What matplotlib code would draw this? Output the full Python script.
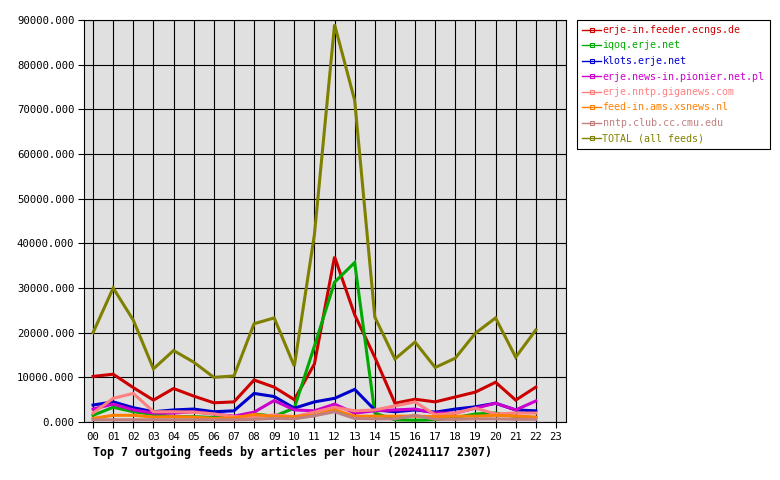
import matplotlib
matplotlib.use("Agg")
import matplotlib.pyplot as plt
from matplotlib.lines import Line2D
from matplotlib.ticker import FuncFormatter

hours = list(range(23))
hour_labels = ["%02d" % h for h in range(24)]

feeds = [
    "erje-in.feeder.ecngs.de",
    "iqoq.erje.net",
    "klots.erje.net",
    "erje.news-in.pionier.net.pl",
    "erje.nntp.giganews.com",
    "feed-in.ams.xsnews.nl",
    "nntp.club.cc.cmu.edu",
    "TOTAL (all feeds)",
]
colors = ["#cc0000", "#00aa00", "#0000cc", "#cc00cc", "#ff8080",
          "#ff8000", "#c08080", "#808000"]

ecngs = [10200, 10700, 7700, 4900, 7500, 5800, 4300, 4500, 9400, 7800, 5000, 13000,
         37000, 24000, 14500, 4200, 5100, 4500, 5600, 6700, 8900, 4900, 7800]
iqoq = [1500, 3300, 2300, 1700, 1200, 1200, 1000, 1000, 1800, 1300, 3100, 17000,
        31300, 35700, 2000, 500, 400, 500, 1000, 1800, 2000, 1200, 1000]
klots = [3800, 4500, 3200, 2300, 2700, 2900, 2300, 2500, 6400, 5700, 3100, 4500,
         5300, 7300, 2700, 2300, 2700, 2200, 2900, 3400, 4200, 2700, 2500]
pionier = [2900, 4000, 2700, 2000, 2000, 2300, 1800, 1300, 2200, 4800, 2700, 2500,
           4000, 2000, 2500, 2700, 2900, 2000, 2000, 3100, 4200, 2700, 4700]
giganews = [2000, 5300, 6400, 2300, 2300, 2200, 1800, 1200, 1100, 1600, 1200, 2200,
            3300, 2500, 2700, 3600, 4500, 1600, 2000, 3100, 1800, 2000, 2000]
xsnews = [800, 1500, 1500, 1100, 1200, 1100, 800, 900, 1700, 1200, 1200, 1500,
          2700, 1300, 1300, 1300, 1300, 1200, 1300, 1300, 1500, 1300, 1100]
cmu = [500, 500, 500, 500, 500, 500, 500, 500, 600, 800, 700, 1400,
       2300, 800, 700, 700, 1500, 600, 600, 700, 700, 600, 600]
total = [20000, 30000, 22800, 11900, 16000, 13400, 10000, 10300, 22000, 23300, 12500, 42000,
         89000, 72000, 23500, 14100, 17900, 12200, 14300, 19900, 23300, 14500, 20600]

series = [ecngs, iqoq, klots, pionier, giganews, xsnews, cmu, total]

mono = "DejaVu Sans Mono"

fig = plt.figure(figsize=(7.8, 4.8), dpi=100)
ax = fig.add_axes([84 / 780, 58 / 480, 482 / 780, 402 / 480])
ax.set_facecolor("#e0e0e0")

# one line per feed, total drawn last
for vals, c in zip(series, colors):
    ax.plot(hours, vals, color=c, lw=2.2, solid_joinstyle="miter", zorder=3)

ax.set_xlim(-0.45, 23.5)
ax.set_ylim(0, 90000)
ax.set_xticks(range(24))
ax.set_xticklabels(hour_labels)
ax.set_yticks(range(0, 90001, 10000))
ax.yaxis.set_major_formatter(FuncFormatter(lambda v, p: "%.3f" % v))
ax.grid(True, color="black", lw=0.8, zorder=1)
ax.set_axisbelow(True)
for s in ax.spines.values():
    s.set_color("black")
    s.set_linewidth(0.8)
ax.tick_params(direction="out", length=4, width=0.8, color="black", pad=3)
for lbl in ax.get_xticklabels() + ax.get_yticklabels():
    lbl.set_fontfamily(mono)
    lbl.set_fontsize(7.7)

fig.text(93 / 780, 1 - 452 / 480, "Top 7 outgoing feeds by articles per hour (20241117 2307)",
         fontfamily=mono, fontsize=8.4, fontweight="bold", va="center", ha="left")

# legend outside the plot, coloured labels
handles = [Line2D([], [], color=c, lw=1, marker="s", ms=3, mfc="none", mew=0.8)
           for c in colors]
leg = fig.legend(handles, feeds, loc="upper left",
                 bbox_to_anchor=(577 / 780, 1 - 20 / 480), bbox_transform=fig.transFigure,
                 borderaxespad=0, fancybox=False, edgecolor="black", framealpha=1,
                 prop={"family": mono, "size": 7.2}, numpoints=1,
                 handlelength=1.9, handletextpad=0.15, labelspacing=0.55,
                 borderpad=0.5)
leg.get_frame().set_linewidth(0.8)
for t, c in zip(leg.get_texts(), colors):
    t.set_color(c)

fig.savefig("out.png", dpi=100)
